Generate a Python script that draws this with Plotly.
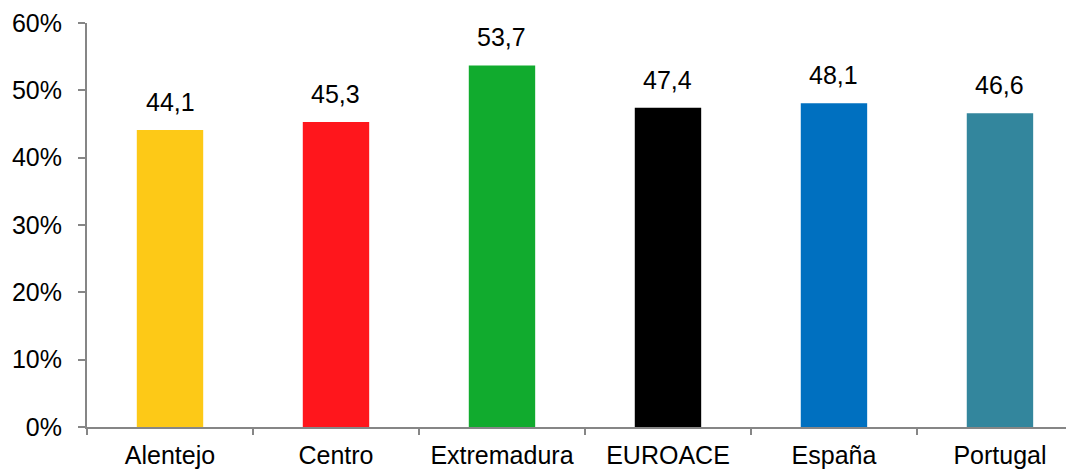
import plotly.graph_objects as go

categories = ["Alentejo", "Centro", "Extremadura", "EUROACE", "España", "Portugal"]
values = [44.1, 45.3, 53.7, 47.4, 48.1, 46.6]
labels = ["44,1", "45,3", "53,7", "47,4", "48,1", "46,6"]
colors = ["#FDC917", "#FF161C", "#11AB2E", "#000000", "#0070C0", "#33869D"]
y_ticks = [0, 10, 20, 30, 40, 50, 60]
y_tick_labels = ["0%", "10%", "20%", "30%", "40%", "50%", "60%"]

font = "Liberation Sans, Arial, sans-serif"
axis_col = "#868686"

fig = go.Figure(go.Bar(
    x=categories, y=values, marker_color=colors, width=0.4,
    marker_line_width=0, hoverinfo="skip"))

for c, v, t in zip(categories, values, labels):
    fig.add_annotation(x=c, y=v, text=t, showarrow=False, yanchor="bottom",
                       yshift=12, font=dict(size=25, color="#000", family=font))

# page body has an 8px default margin; figure sized to fill the rest of the window
fig.update_layout(
    width=1066, height=462,
    margin=dict(l=79, r=0, t=15, b=43, autoexpand=False),
    plot_bgcolor="white", paper_bgcolor="white",
    showlegend=False,
    font=dict(family=font, size=25, color="#000"),
    xaxis=dict(range=[-0.5, 5.446], showline=True, linecolor=axis_col, linewidth=2,
               ticks="outside", tickson="boundaries", ticklen=6, tickcolor=axis_col,
               tickwidth=2, showgrid=False, zeroline=False, automargin=False,
               ticklabelstandoff=5,
               tickfont=dict(size=25, family=font, color="#000")),
    yaxis=dict(range=[0, 60], tickvals=y_ticks, ticktext=y_tick_labels,
               showline=True, linecolor=axis_col, linewidth=2,
               ticks="outside", ticklen=7, tickcolor=axis_col, tickwidth=2,
               showgrid=False, zeroline=False, ticklabelstandoff=11, automargin=False,
               tickfont=dict(size=25, family=font, color="#000")),
)

fig.write_html("out.html")
